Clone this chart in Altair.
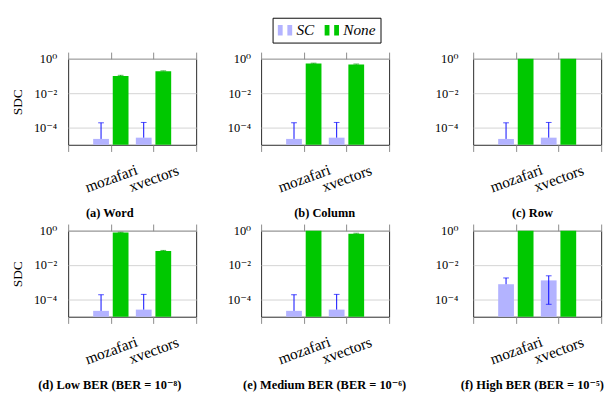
import altair as alt
import pandas as pd

panels = ["(a) Word", "(b) Column", "(c) Row",
          "(d) Low BER (BER = 10⁻⁸)", "(e) Medium BER (BER = 10⁻⁶)", "(f) High BER (BER = 10⁻⁵)"]
models = ["mozafari", "xvectors"]
methods = ["SC", "None"]
x_slots = ["L", "mozafari", "xvectors", "R"]   # empty slots at the axis ends

# SC (mean, upper error, lower error) per panel: [mozafari, xvectors]
sc_val = [[2.2e-5, 2.6e-5], [2.2e-5, 2.6e-5], [2.2e-5, 2.6e-5],
          [2.2e-5, 2.6e-5], [2.2e-5, 2.6e-5], [7.8e-4, 1.3e-3]]
sc_hi = [[1.9e-4, 2.0e-4], [1.9e-4, 2.0e-4], [1.9e-4, 2.0e-4],
         [1.9e-4, 2.0e-4], [1.9e-4, 2.0e-4], [1.8e-3, 2.4e-3]]
sc_lo = [[None, None], [None, None], [None, None],
         [None, None], [None, None], [None, 5.3e-5]]
# None (no protection)
none_val = [[0.10, 0.19], [0.53, 0.47], [1.0, 1.0],
            [0.78, 0.066], [1.0, 0.68], [1.0, 1.0]]
none_hi = [[0.11, 0.20], [0.56, 0.50], [None, None],
           [0.82, 0.072], [None, 0.72], [None, None]]
none_lo = [[None, None], [None, None], [None, None],
           [None, None], [None, None], [None, None]]

rows = []
for p, name in enumerate(panels):
    for m, model in enumerate(models):
        rows.append(dict(panel=name, model=model, method="SC",
                         value=sc_val[p][m], hi=sc_hi[p][m], lo=sc_lo[p][m]))
        rows.append(dict(panel=name, model=model, method="None",
                         value=none_val[p][m], hi=none_hi[p][m], lo=none_lo[p][m]))
df = pd.DataFrame(rows)

SERIF = "Liberation Serif, 'Times New Roman', 'DejaVu Serif', 'Noto Serif', serif"
LAV = "#b3b3ff"
GREEN = "#00c800"
ERR = {"SC": "#0000ff", "None": "#009a00"}
OFFS = {"SC": -10.25, "None": 10.25}
BAR_W = 16.5
W, H = 134, 90
title_dx = [-23.5, -0.5, -5]
ylab_pad = [12, 11, 16]
ylab_ext = [33, 29, 36]

legend = alt.Legend(
    orient="none", legendX=214, legendY=-43, direction="horizontal", title=None,
    strokeColor="black", fillColor="white", padding=5,
    labelFont=SERIF, labelFontStyle="italic", labelFontSize=16, labelColor="black",
    symbolType="M-1,-0.73H-0.33V0.73H-1Z M0.33,-0.73H1V0.73H0.33Z",
    symbolSize=225, symbolStrokeWidth=0, labelOffset=4, columnPadding=10,
)


def panel(i):
    d = df[df.panel == panels[i]]
    col = i % 3
    xscale = alt.Scale(type="point", domain=x_slots, padding=0)
    yscale = alt.Scale(type="log", domain=[1e-5, 1], nice=False, clamp=True)
    yaxis = alt.Axis(values=[1e-4, 1e-2, 1],
                     labelExpr="datum.value >= 0.5 ? '10⁰' : datum.value >= 0.005 ? '10⁻²' : '10⁻⁴'",
                     grid=True, gridColor="#d2d2d2", ticks=False, domain=False,
                     labelPadding=ylab_pad[col], minExtent=ylab_ext[col], maxExtent=ylab_ext[col],
                     labelFont=SERIF, labelFontSize=13, labelColor="black",
                     title="SDC" if col == 0 else None,
                     titleFont=SERIF, titleFontSize=14, titleFontWeight="normal",
                     titleColor="black", titlePadding=13)
    bottom_axis = alt.Axis(orient="bottom", ticks=True, tickSize=7, tickColor="#888888",
                           domain=False, grid=False, title=None,
                           labelExpr="datum.value == 'L' || datum.value == 'R' ? '' : datum.value",
                           labelAngle=340, labelAlign="center", labelBaseline="middle",
                           labelPadding=28, labelFont=SERIF, labelFontSize=16,
                           labelColor="black")
    top_axis = alt.Axis(orient="top", ticks=True, tickSize=7, tickColor="#888888",
                        domain=False, grid=False, title=None, labels=False)
    layers = []
    for k, meth in enumerate(methods):
        dm = alt.Chart(d).transform_filter(alt.datum.method == meth)
        bar = dm.mark_bar(width=BAR_W, xOffset=OFFS[meth]).encode(
            x=alt.X("model:N", scale=xscale, axis=bottom_axis if k == 0 else top_axis),
            y=alt.Y("value:Q", scale=yscale, axis=yaxis),
            color=alt.Color("method:N", sort=methods,
                            scale=alt.Scale(domain=methods, range=[LAV, GREEN]),
                            legend=legend),
        )
        rule = dm.transform_filter("isValid(datum.hi)").transform_calculate(
            base="isValid(datum.lo) ? datum.lo : datum.value"
        ).mark_rule(strokeWidth=1, color=ERR[meth], xOffset=OFFS[meth]).encode(
            x=alt.X("model:N", scale=xscale, axis=None),
            y=alt.Y("base:Q", scale=yscale, axis=yaxis),
            y2="hi:Q",
        )
        cap_hi = dm.transform_filter("isValid(datum.hi)").mark_tick(
            size=6, thickness=1, color=ERR[meth], xOffset=OFFS[meth], orient="horizontal"
        ).encode(
            x=alt.X("model:N", scale=xscale, axis=None),
            y=alt.Y("hi:Q", scale=yscale, axis=yaxis),
        )
        cap_lo = dm.transform_filter("isValid(datum.lo)").mark_tick(
            size=6, thickness=1, color=ERR[meth], xOffset=OFFS[meth], orient="horizontal"
        ).encode(
            x=alt.X("model:N", scale=xscale, axis=None),
            y=alt.Y("lo:Q", scale=yscale, axis=yaxis),
        )
        layers += [bar, rule, cap_hi, cap_lo]
    return alt.layer(*layers).resolve_axis(x="independent").properties(
        width=W, height=H,
        title=alt.TitleParams(panels[i], orient="bottom", anchor="middle", frame="group",
                              dx=title_dx[col], offset=13, font=SERIF, fontSize=13,
                              fontWeight="bold", color="black"),
    )


chart = alt.concat(*[panel(i) for i in range(6)], columns=3,
                   spacing={"row": 3, "column": 28}, align="each", bounds="full").properties(
    padding={"left": 2, "top": 0, "right": 0, "bottom": 0}
).configure_view(stroke="#222222", strokeWidth=1)

chart.save("out.html", embed_options={"renderer": "svg", "actions": False})
